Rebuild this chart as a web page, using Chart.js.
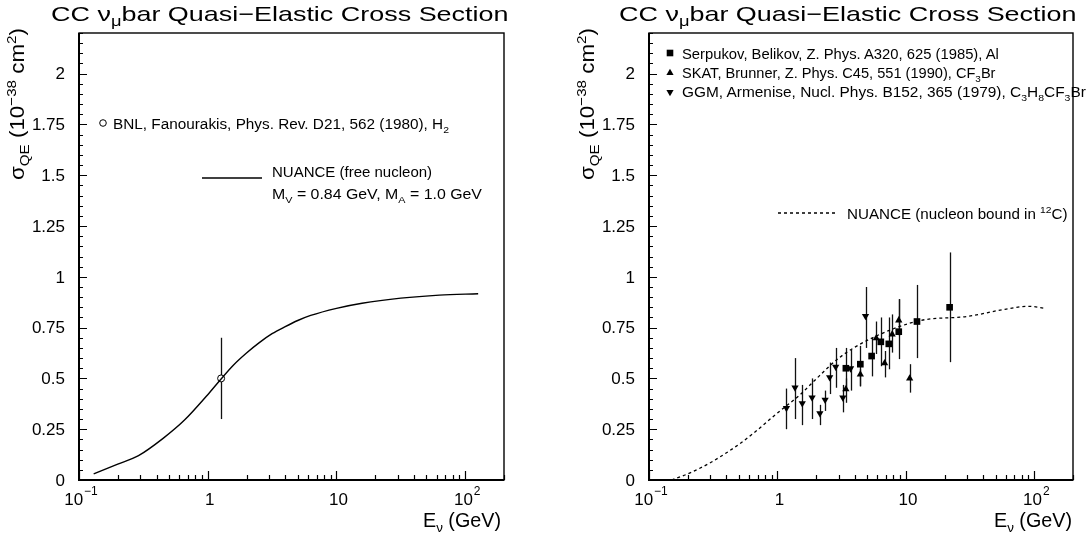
<!DOCTYPE html>
<html lang="en">
<head>
<meta charset="UTF-8">
<title>CC numu-bar Quasi-Elastic Cross Section</title>
<script src="https://cdn.jsdelivr.net/npm/chart.js@4.4.1/dist/chart.umd.min.js"></script>
<style>
  *, *::before, *::after { box-sizing: border-box; margin: 0; padding: 0; }
  body { width: 1092px; height: 538px; background: #fff; color: #000; overflow: hidden; position: relative;
         font-family: "Liberation Sans", Arial, sans-serif; }
  .panel { position: absolute; top: 0; width: 546px; height: 538px; }
  .panel canvas { position: absolute; left: 0; top: 0; }
  .txt { position: absolute; white-space: nowrap; line-height: 1; z-index: 2; transform-origin: 0 0; }
  .title { font-size: 21px; top: 3px; }
  .ytitle { font-size: 20px; }
  .xtitle { font-size: 20px; top: 510px; transform-origin: 100% 0; }
  .leg { font-size: 14px; }
  sub, sup { font-size: 68%; line-height: 0; }
</style>
</head>
<body>

<div class="panel" style="left:0">
  <canvas id="leftChart" width="546" height="538"></canvas>
  <div class="txt title" data-cx="280" data-w="458">CC &nu;<sub>&mu;</sub>bar Quasi&minus;Elastic Cross Section</div>
  <div class="txt ytitle" data-len="152" style="left:7px;top:28px">&sigma;<sub>QE</sub> (10<sup>&minus;38</sup> cm<sup>2</sup>)</div>
  <div class="txt xtitle" data-w="78" style="right:45px">E<sub>&nu;</sub> (GeV)</div>
  <div class="txt leg" data-w="336" style="left:113px;top:116.5px">BNL, Fanourakis, Phys. Rev. D21, 562 (1980), H<sub>2</sub></div>
  <div class="txt leg" style="left:272px;top:164px;font-size:15px">NUANCE (free nucleon)</div>
  <div class="txt leg" data-w="210" style="left:272px;top:186.5px">M<sub>V</sub> = 0.84 GeV, M<sub>A</sub> = 1.0 GeV</div>
</div>

<div class="panel" style="left:546px">
  <canvas id="rightChart" width="546" height="538"></canvas>
  <div class="txt title" data-cx="302" data-w="458">CC &nu;<sub>&mu;</sub>bar Quasi&minus;Elastic Cross Section</div>
  <div class="txt ytitle" data-len="152" style="left:31px;top:28px">&sigma;<sub>QE</sub> (10<sup>&minus;38</sup> cm<sup>2</sup>)</div>
  <div class="txt xtitle" data-w="78" style="right:20px">E<sub>&nu;</sub> (GeV)</div>
  <div class="txt leg" data-w="317" style="left:136px;top:46.5px">Serpukov, Belikov, Z. Phys. A320, 625 (1985), Al</div>
  <div class="txt leg" style="left:136px;top:65.8px;font-size:14.6px">SKAT, Brunner, Z. Phys. C45, 551 (1990), CF<sub>3</sub>Br</div>
  <div class="txt leg" data-w="404" style="left:136px;top:84.8px">GGM, Armenise, Nucl. Phys. B152, 365 (1979), C<sub>3</sub>H<sub>8</sub>CF<sub>3</sub>Br</div>
  <div class="txt leg" data-w="221" style="left:301px;top:206.5px">NUANCE (nucleon bound in <sup>12</sup>C)</div>
</div>

<script>
// axis ranges and tick labels
const X_MIN = 0.1, X_MAX = 200;
const Y_MAX = 2.2;
const yTickVals = [0, 0.25, 0.5, 0.75, 1, 1.25, 1.5, 1.75, 2];
const yTickText = ['0', '0.25', '0.5', '0.75', '1', '1.25', '1.5', '1.75', '2'];
const xTickVals = [0.1, 1, 10, 100];
const xTickText = ['10', '1', '10', '10'];
const xTickSup = ['\u22121', '', '', '2'];

// left panel: NUANCE free nucleon + BNL point
const freeE = [0.13, 0.2, 0.29, 0.45, 0.66, 1.0, 1.26, 1.58, 2.0, 2.5, 3.16, 4.0, 5.0, 6.3, 10, 15.8, 31.6, 63, 126];
const freeSigma = [0.03, 0.078, 0.12, 0.205, 0.295, 0.42, 0.495, 0.565, 0.625, 0.675, 0.72, 0.755, 0.785, 0.81, 0.845, 0.87, 0.895, 0.91, 0.917];
const bnlE = [1.27];
const bnlSigma = [0.5];
const bnlLo = [0.3];
const bnlHi = [0.7];

// right panel: NUANCE bound nucleon (12C)
const boundE = [0.15, 0.2, 0.3, 0.5, 0.65, 1.0, 1.5, 2.1, 3.0, 5.5, 13, 30, 59, 90, 121];
const boundSigma = [0.0, 0.03, 0.085, 0.175, 0.23, 0.33, 0.42, 0.51, 0.6, 0.7, 0.785, 0.805, 0.84, 0.855, 0.845];

// Serpukov, Al (squares)
const serpE = [3.41, 4.42, 5.41, 6.38, 7.36, 8.8, 12.2, 21.9];
const serpSigma = [0.55, 0.57, 0.61, 0.68, 0.67, 0.73, 0.78, 0.85];
const serpLo = [0.45, 0.46, 0.51, 0.56, 0.545, 0.595, 0.6, 0.58];
const serpHi = [0.65, 0.66, 0.7, 0.8, 0.8, 0.89, 0.96, 1.12];

// SKAT, CF3Br (up triangles)
const skatE = [3.41, 4.42, 5.88, 6.83, 7.82, 8.8, 10.7];
const skatSigma = [0.447, 0.52, 0.698, 0.575, 0.717, 0.786, 0.5];
const skatLo = [0.38, 0.463, 0.62, 0.505, 0.627, 0.71, 0.43];
const skatHi = [0.5, 0.545, 0.78, 0.635, 0.815, 0.89, 0.57];

// GGM, C3H8CF3Br (down triangles)
const ggmE = [1.175, 1.37, 1.56, 1.86, 2.14, 2.35, 2.55, 2.84, 3.23, 3.71, 4.85];
const ggmSigma = [0.354, 0.455, 0.377, 0.406, 0.328, 0.395, 0.505, 0.557, 0.406, 0.549, 0.807];
const ggmLo = [0.25, 0.3, 0.27, 0.3, 0.27, 0.34, 0.423, 0.454, 0.333, 0.44, 0.65];
const ggmHi = [0.45, 0.6, 0.468, 0.5, 0.37, 0.44, 0.578, 0.65, 0.468, 0.64, 0.95];

const pts = (xs, ys) => xs.map((v, i) => ({ x: v, y: ys[i] }));
const FONT = '"Liberation Sans", Arial, sans-serif';

// stretch the HTML labels to the widths of the old wide plotting font
document.querySelectorAll('.txt').forEach(el => {
  const w = el.offsetWidth;
  if (el.dataset.len) {
    const len = +el.dataset.len;
    el.style.transform = `rotate(-90deg) translateX(${-len}px) scaleX(${len / w})`;
  } else if (el.dataset.cx) {
    const tw = +el.dataset.w;
    el.style.left = (+el.dataset.cx - tw / 2) + 'px';
    el.style.transform = `scaleX(${tw / w})`;
  } else if (el.dataset.w) {
    el.style.transform = `scaleX(${+el.dataset.w / w})`;
  }
});

// small marker painter for the legend samples
function marker(ctx, kind, x, y) {
  ctx.save();
  ctx.fillStyle = '#000'; ctx.strokeStyle = '#000'; ctx.lineWidth = 1;
  ctx.beginPath();
  if (kind === 'rect') ctx.rect(x - 3.3, y - 3.3, 6.6, 6.6);
  else if (kind === 'up') { ctx.moveTo(x, y - 4.2); ctx.lineTo(x + 3.6, y + 2.1); ctx.lineTo(x - 3.6, y + 2.1); ctx.closePath(); }
  else if (kind === 'down') { ctx.moveTo(x, y + 4.2); ctx.lineTo(x + 3.6, y - 2.1); ctx.lineTo(x - 3.6, y - 2.1); ctx.closePath(); }
  if (kind === 'circle') { ctx.arc(x, y, 3.3, 0, Math.PI * 2); ctx.fillStyle = '#fff'; ctx.fill(); ctx.stroke(); }
  else ctx.fill();
  ctx.restore();
}

// frame with inside ticks, labels with exponents, error bars, legend samples
const rootFrame = {
  id: 'rootFrame',
  beforeDatasetsDraw(chart) {
    const { ctx, scales: { x, y } } = chart;
    ctx.save();
    ctx.strokeStyle = '#111';
    ctx.lineWidth = 1.3;
    chart.data.datasets.forEach(ds => {
      if (!ds.errLo) return;
      ds.data.forEach((p, i) => {
        const px = Math.round(x.getPixelForValue(p.x)) + 0.5;
        ctx.beginPath();
        ctx.moveTo(px, y.getPixelForValue(ds.errLo[i]));
        ctx.lineTo(px, y.getPixelForValue(ds.errHi[i]));
        ctx.stroke();
      });
    });
    ctx.restore();
  },
  afterDraw(chart, args, opts) {
    const { ctx, chartArea: a, scales: { x, y } } = chart;
    ctx.save();
    ctx.strokeStyle = '#000';
    ctx.lineWidth = 1.4;
    ctx.strokeRect(a.left, a.top, a.right - a.left, a.bottom - a.top);
    ctx.lineWidth = 2;
    ctx.beginPath();
    ctx.moveTo(a.left, a.top); ctx.lineTo(a.left, a.bottom); ctx.lineTo(a.right, a.bottom);
    ctx.stroke();

    // y ticks every 0.05, long ones at the labels
    ctx.lineWidth = 1.2;
    ctx.beginPath();
    for (let i = 0; i * 0.05 <= Y_MAX + 1e-9; i++) {
      const py = Math.round(y.getPixelForValue(i * 0.05)) + 0.5;
      const len = i % 5 === 0 ? 8 : 4;
      ctx.moveTo(a.left, py); ctx.lineTo(a.left + len, py);
    }
    // x ticks: decades long, 2..9 short
    xTickVals.forEach(d => {
      for (let m = 1; m <= 9; m++) {
        const v = d * m;
        if (v > X_MAX + 1e-9) break;
        const px = Math.round(x.getPixelForValue(v)) + 0.5;
        const len = m === 1 ? 9 : 5;
        ctx.moveTo(px, a.bottom); ctx.lineTo(px, a.bottom - len);
      }
    });
    ctx.stroke();

    ctx.fillStyle = '#000';
    ctx.font = '17px ' + FONT;
    ctx.textAlign = 'right';
    ctx.textBaseline = 'middle';
    yTickVals.forEach((v, i) => ctx.fillText(yTickText[i], a.left - 14, y.getPixelForValue(v) + 1));

    ctx.textAlign = 'left';
    ctx.textBaseline = 'alphabetic';
    xTickVals.forEach((v, i) => {
      ctx.font = '17px ' + FONT;
      const wb = ctx.measureText(xTickText[i]).width;
      ctx.font = '12px ' + FONT;
      const we = xTickSup[i] ? ctx.measureText(xTickSup[i]).width + 1 : 0;
      const x0 = x.getPixelForValue(v) - (wb + we) / 2 + 2;
      const base = a.bottom + 25;
      ctx.font = '17px ' + FONT;
      ctx.fillText(xTickText[i], x0, base);
      if (xTickSup[i]) {
        ctx.font = '12px ' + FONT;
        ctx.fillText(xTickSup[i], x0 + wb + 1, base - 10);
      }
    });

    // legend samples
    (opts.samples || []).forEach(s => {
      if (s.kind === 'solid' || s.kind === 'dashed') {
        ctx.lineWidth = 1.3;
        ctx.setLineDash(s.kind === 'dashed' ? [3, 3] : []);
        ctx.beginPath(); ctx.moveTo(s.x1, s.y); ctx.lineTo(s.x2, s.y); ctx.stroke();
        ctx.setLineDash([]);
      } else {
        marker(ctx, s.kind, s.x, s.y);
      }
    });
    ctx.restore();
  }
};

function makeChart(id, datasets, padLeft, padRight, samples) {
  return new Chart(document.getElementById(id), {
    type: 'scatter',
    data: { datasets },
    options: {
      responsive: false, animation: false, devicePixelRatio: 1, events: [],
      layout: { padding: { left: padLeft, right: padRight, top: 33, bottom: 58 } },
      plugins: { legend: { display: false }, tooltip: { enabled: false }, rootFrame: { samples } },
      scales: {
        x: { type: 'logarithmic', min: X_MIN, max: X_MAX, display: false },
        y: { min: 0, max: Y_MAX, display: false }
      }
    },
    plugins: [rootFrame]
  });
}

makeChart('leftChart', [
  { data: pts(freeE, freeSigma), showLine: true, borderColor: '#000', borderWidth: 1.4,
    pointRadius: 0, cubicInterpolationMode: 'monotone' },
  { data: pts(bnlE, bnlSigma), errLo: bnlLo, errHi: bnlHi, pointStyle: 'circle', pointRadius: 3.5,
    backgroundColor: '#fff', borderColor: '#000', borderWidth: 1 }
], 79, 42, [
  { kind: 'circle', x: 103, y: 123 },
  { kind: 'solid', x1: 202, x2: 262, y: 178 }
]);

makeChart('rightChart', [
  { data: pts(boundE, boundSigma), showLine: true, borderColor: '#000', borderWidth: 1.3, borderDash: [3, 3],
    pointRadius: 0, cubicInterpolationMode: 'monotone' },
  { data: pts(ggmE, ggmSigma), errLo: ggmLo, errHi: ggmHi, pointStyle: 'triangle', rotation: 180,
    pointRadius: 4.2, backgroundColor: '#000', borderColor: '#000', borderWidth: 0 },
  { data: pts(skatE, skatSigma), errLo: skatLo, errHi: skatHi, pointStyle: 'triangle',
    pointRadius: 4.2, backgroundColor: '#000', borderColor: '#000', borderWidth: 0 },
  { data: pts(serpE, serpSigma), errLo: serpLo, errHi: serpHi, pointStyle: 'rect',
    pointRadius: 4.7, backgroundColor: '#000', borderColor: '#000', borderWidth: 0 }
], 103, 19, [
  { kind: 'rect', x: 124, y: 53 },
  { kind: 'up', x: 124, y: 73 },
  { kind: 'down', x: 124, y: 92 },
  { kind: 'dashed', x1: 232, x2: 291, y: 213 }
]);
</script>
</body>
</html>
